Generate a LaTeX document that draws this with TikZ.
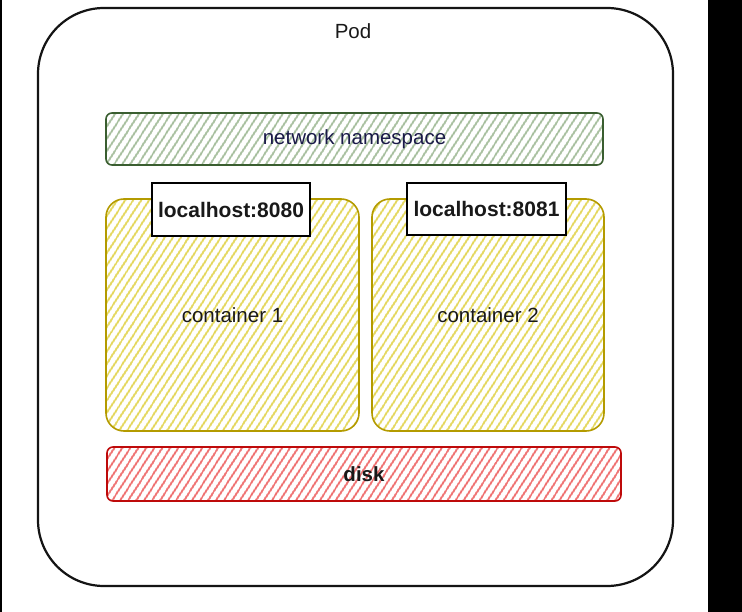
\documentclass[tikz,border=0pt]{standalone}
\usepackage{fontspec}
\setmainfont{Liberation Sans}
\usetikzlibrary{patterns.meta}
\definecolor{podline}{RGB}{20,20,20}
\definecolor{greenline}{RGB}{58,94,48}
\definecolor{greenhatch}{RGB}{160,186,150}
\definecolor{yellowline}{RGB}{180,155,0}
\definecolor{yellowhatch}{RGB}{226,212,78}
\definecolor{redline}{RGB}{190,10,10}
\definecolor{redhatch}{RGB}{238,100,100}
\definecolor{navytext}{RGB}{26,26,72}
\definecolor{darktext}{RGB}{25,25,25}
\tikzset{
	podbox/.style={draw=podline, line width=2.2pt, rounded corners=66pt, inner sep=0pt, outer sep=0pt},
	hatchbox/.style={line width=1.6pt, inner sep=0pt, outer sep=0pt, text=darktext,
		pattern={Lines[angle=57, distance=6.5pt, line width=2.1pt]}},
	portbox/.style={draw=black, line width=1.6pt, fill=white, inner sep=0pt, outer sep=0pt,
		text=darktext, font=\fontsize{21}{24}\selectfont\bfseries},
}
\begin{document}
\begin{tikzpicture}[x=1pt, y=-1pt, font=\fontsize{20.5}{24}\selectfont]
			%%%%% START %%%%%
			
			\useasboundingbox (0, 0) rectangle (742, 612);
			\fill[white] (0, 0) rectangle (742, 612);
			\fill[black] (0, 0) rectangle (1.5, 612);
			\fill[black] (708, 0) rectangle (742, 612);
			
			\node[podbox, minimum width=635pt, minimum height=578pt] (pod) at (355.5, 297) {};
			\node[text=darktext] (podlabel) at (353, 31) {Pod};
			
			\node[hatchbox, draw=greenline, pattern color=greenhatch, rounded corners=6pt,
				minimum width=497pt, minimum height=52pt, text=navytext] (netns) at (354.5, 139) {network namespace};
			
			\node[hatchbox, draw=yellowline, pattern color=yellowhatch, rounded corners=18pt,
				minimum width=253pt, minimum height=232pt] (cont1) at (232.5, 315) {container 1};
			\node[hatchbox, draw=yellowline, pattern color=yellowhatch, rounded corners=18pt,
				minimum width=232pt, minimum height=232pt] (cont2) at (488, 315) {container 2};
			
			\node[portbox, minimum width=158pt, minimum height=53pt] (port1) at (231, 209.5) {localhost:8080};
			\node[portbox, minimum width=159pt, minimum height=52pt] (port2) at (486.5, 209) {localhost:8081};
			
			\node[hatchbox, draw=redline, pattern color=redhatch, rounded corners=6pt,
				minimum width=514pt, minimum height=54pt, font=\fontsize{20.5}{24}\selectfont\bfseries] (disk) at (364, 474) {disk};
			
			%%%%% END %%%%%
\end{tikzpicture}
\end{document}
